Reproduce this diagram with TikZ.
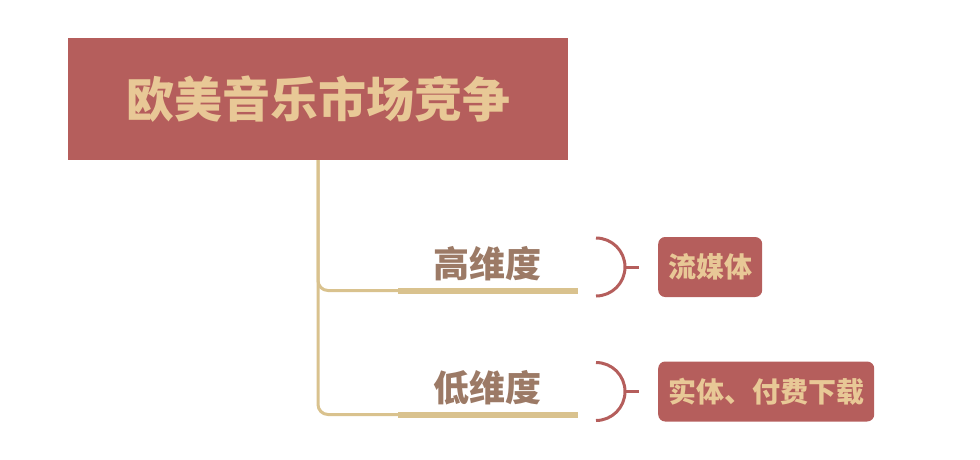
\documentclass[tikz,border=0pt]{standalone}
\usepackage{fontspec}
\usepackage{xcolor}
\newfontfamily\cjk{Noto Sans CJK SC}
\definecolor{hongdam}{HTML}{B55E5C}
\definecolor{vangnhat}{HTML}{E8C896}
\definecolor{vangday}{HTML}{D9C28E}
\definecolor{nauchu}{HTML}{9C7A66}

\begin{document}
\begin{tikzpicture}[x=1pt,y=-1pt,
		tieude/.style={fill=hongdam,text=vangnhat,font=\cjk\bfseries\fontsize{48}{48}\selectfont,minimum width=500pt,minimum height=122pt,inner sep=0pt},
		nhan/.style={text=nauchu,font=\cjk\bfseries\fontsize{36}{36}\selectfont,inner sep=0pt},
		hop/.style={fill=hongdam,text=vangnhat,font=\cjk\bfseries\fontsize{28}{28}\selectfont,rounded corners=7pt,minimum height=60pt,inner xsep=10pt,anchor=west},
		than/.style={draw=vangday,line width=3pt,rounded corners=10pt},
		gach/.style={draw=vangday,line width=6pt},
		ngoac/.style={draw=hongdam,line width=3pt}]
			\useasboundingbox (0,0) rectangle (980,460);
			\node[tieude] (chu) at (318,99) {欧美音乐市场竞争};
			\node[nhan] (cao) at (487,264) {高维度};
			\node[nhan] (thap) at (487,388) {低维度};
			\coordinate (a1) at (398,290.5);
			\coordinate (b1) at (578,290.5);
			\coordinate (a2) at (398,414.5);
			\coordinate (b2) at (578,414.5);
			\coordinate (m1) at (596,267);
			\coordinate (m2) at (596,391.5);
			\node[hop] (luu) at (658,267) {流媒体};
			\node[hop] (thuc) at (658,391.5) {实体、付费下载};
			\draw[than] (chu.south) |- (a1);
			\draw[than] (chu.south) |- (a2);
			\draw[gach] (a1) -- (b1);
			\draw[gach] (a2) -- (b2);
			\draw[ngoac] (m1) ++(0,-29) arc[start angle=-90,end angle=90,radius=29];
			\draw[ngoac] (m2) ++(0,-29) arc[start angle=-90,end angle=90,radius=29];
			\draw[ngoac] (m1) ++(29,0) -- ++(14,0);
			\draw[ngoac] (m2) ++(29,0) -- ++(14,0);
		\end{tikzpicture}
\end{document}
